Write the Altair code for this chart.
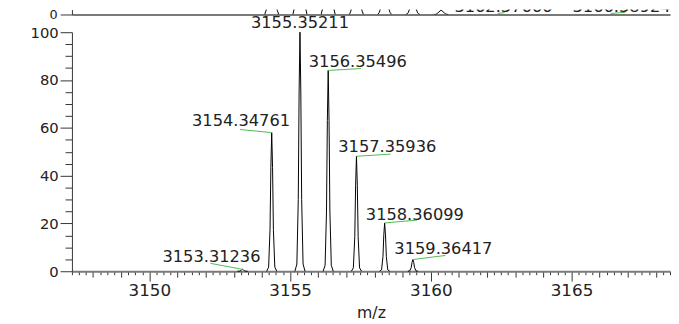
import altair as alt
import pandas as pd

FONT = "DejaVu Sans"
TXT = "#222222"
GREEN = "#4cbb4c"

# ---------------- observed spectrum (lower panel) ----------------
obs_labels = ["3153.31236", "3154.34761", "3155.35211", "3156.35496",
              "3157.35936", "3158.36099", "3159.36417"]
obs_mz = [3153.312, 3154.348, 3155.352, 3156.355, 3157.359, 3158.361, 3159.364]
obs_int = [0.8, 58.0, 100.0, 84.0, 48.1, 20.2, 4.9]

obs_profile_mz = [
    [3153.132, 3153.202, 3153.252, 3153.282, 3153.312, 3153.342, 3153.372, 3153.422, 3153.492],
    [3154.168, 3154.238, 3154.288, 3154.318, 3154.348, 3154.378, 3154.408, 3154.458, 3154.528],
    [3155.172, 3155.242, 3155.292, 3155.322, 3155.352, 3155.382, 3155.412, 3155.462, 3155.532],
    [3156.175, 3156.245, 3156.295, 3156.325, 3156.355, 3156.385, 3156.415, 3156.465, 3156.535],
    [3157.179, 3157.249, 3157.299, 3157.329, 3157.359, 3157.389, 3157.419, 3157.469, 3157.539],
    [3158.181, 3158.251, 3158.301, 3158.331, 3158.361, 3158.391, 3158.421, 3158.471, 3158.541],
    [3159.184, 3159.254, 3159.304, 3159.334, 3159.364, 3159.394, 3159.424, 3159.474, 3159.544],
]
obs_profile_int = [
    [0, 0.02, 0.24, 0.6, 0.8, 0.6, 0.24, 0.02, 0],
    [0, 1.7, 17.4, 43.5, 58.0, 43.5, 17.4, 1.7, 0],
    [0, 3.0, 30.0, 75.0, 100.0, 75.0, 30.0, 3.0, 0],
    [0, 2.5, 25.2, 63.0, 84.0, 63.0, 25.2, 2.5, 0],
    [0, 1.4, 14.4, 36.0, 48.1, 36.0, 14.4, 1.4, 0],
    [0, 0.6, 6.1, 15.2, 20.2, 15.2, 6.1, 0.6, 0],
    [0, 0.15, 1.5, 3.7, 4.9, 3.7, 1.5, 0.15, 0],
]

# label anchors and leader-line ends
obs_lab_x = [3153.95, 3155.00, 3155.352, 3155.664, 3156.713, 3157.692, 3158.706]
obs_lab_y = [3.7, 60.6, 101.6, 85.3, 49.7, 21.3, 7.1]
obs_lab_align = ["right", "right", "center", "left", "left", "left", "left"]
obs_lead_x = [3152.17, 3153.22, 3155.352, 3157.52, 3158.57, 3159.51, 3160.52]
obs_lead_y = [3.3, 59.3, 100.0, 84.8, 49.0, 21.4, 6.6]

# ---------------- theoretical pattern (upper panel, mostly cut off) ----------------
theo_profile_mz = [
    [3154.098, 3154.148, 3154.178, 3154.228, 3154.348, 3154.468, 3154.518, 3154.548, 3154.598],
    [3155.102, 3155.152, 3155.182, 3155.232, 3155.352, 3155.472, 3155.522, 3155.552, 3155.602],
    [3156.105, 3156.155, 3156.185, 3156.235, 3156.355, 3156.475, 3156.525, 3156.555, 3156.605],
    [3157.109, 3157.159, 3157.189, 3157.239, 3157.359, 3157.479, 3157.529, 3157.559, 3157.609],
    [3158.111, 3158.161, 3158.191, 3158.241, 3158.361, 3158.481, 3158.531, 3158.561, 3158.611],
    [3159.114, 3159.164, 3159.194, 3159.244, 3159.364, 3159.484, 3159.534, 3159.564, 3159.614],
    [3160.117, 3160.167, 3160.197, 3160.247, 3160.367, 3160.487, 3160.537, 3160.567, 3160.617],
]
theo_profile_int = [
    [0, 2.7, 6.0, 19.2, 60.0, 19.2, 6.0, 2.7, 0],
    [0, 4.5, 10.0, 32.0, 100.0, 32.0, 10.0, 4.5, 0],
    [0, 4.0, 8.8, 28.2, 88.0, 28.2, 8.8, 4.0, 0],
    [0, 2.3, 5.2, 16.6, 52.0, 16.6, 5.2, 2.3, 0],
    [0, 1.1, 2.4, 7.7, 24.0, 7.7, 2.4, 1.1, 0],
    [0, 0.5, 1.1, 3.5, 11.0, 3.5, 1.1, 0.5, 0],
    [0, 0.14, 0.3, 1.0, 3.0, 1.0, 0.3, 0.14, 0],
]
theo_labels = ["3162.37666", "3166.38924"]
theo_peak_x = [3162.377, 3166.389]
theo_peak_y = [0.67, 0.67]
theo_lab_x = [3160.839, 3165.035]
theo_lab_y = [1.7, 1.7]
theo_lead_x = [3162.622, 3166.91]
theo_lead_y = [1.3, 1.5]

# ---------------- axis definitions ----------------
XDOM = [3147.25, 3168.5]
x_ticks = [3147.25 + 0.25 * i for i in range(86)]
y_ticks = list(range(0, 101, 5))
W = 608

xscale = alt.Scale(domain=XDOM, nice=False, zero=False)
yscale_obs = alt.Scale(domain=[0, 100], nice=False)
yscale_theo = alt.Scale(domain=[0, 3.3], nice=False)

x_axis_obs = alt.Axis(
    values=x_ticks, title="m/z", grid=False,
    labelExpr="datum.value % 5 === 0 ? format(datum.value, 'd') : ''",
    labelOverlap=False, labelFlush=False,
    tickSize={"condition": [{"test": "datum.value % 5 === 0", "value": 10},
                            {"test": "datum.value % 1 === 0", "value": 6}],
              "value": 3.5},
    tickColor="#333333", domainColor="#7a7a7a", domainWidth=2,
    labelFont=FONT, labelFontSize=17, labelColor=TXT, labelPadding=2,
    titleFont=FONT, titleFontSize=16, titleFontWeight="normal", titleColor=TXT,
    titlePadding=6,
)
y_axis_obs = alt.Axis(
    values=y_ticks, title=None, grid=False,
    labelExpr="datum.value % 20 === 0 ? datum.label : ''",
    labelOverlap=False, labelFlush=False,
    tickSize={"condition": {"test": "datum.value % 20 === 0", "value": 12}, "value": 7},
    tickColor="#333333", domainColor="#333333",
    labelFont=FONT, labelFontSize=15, labelColor=TXT, labelPadding=2,
)
x_axis_theo = alt.Axis(
    title=None, grid=False, labels=False, ticks=False,
    domainColor="#7a7a7a", domainWidth=2,
)
y_axis_theo = alt.Axis(
    values=[0], title=None, grid=False, tickSize=12,
    tickColor="#333333", domainColor="#333333",
    labelFont=FONT, labelFontSize=13, labelColor=TXT, labelPadding=3,
)

# ---------------- tables ----------------
obs_rows = []
for k, (mzs, ints) in enumerate(zip(obs_profile_mz, obs_profile_int)):
    for m, v in zip(mzs, ints):
        obs_rows.append({"mz": m, "int": v, "peak": k})
obs_df = pd.DataFrame(obs_rows)

theo_rows = []
for k, (mzs, ints) in enumerate(zip(theo_profile_mz, theo_profile_int)):
    for m, v in zip(mzs, ints):
        theo_rows.append({"mz": m, "int": v, "peak": k})
theo_df = pd.DataFrame(theo_rows)

obs_lab = pd.DataFrame({
    "label": obs_labels, "mz": obs_mz, "int": obs_int,
    "lx": obs_lab_x, "ly": obs_lab_y, "align": obs_lab_align,
    "ex": obs_lead_x, "ey": obs_lead_y,
})
theo_lab = pd.DataFrame({
    "label": theo_labels, "mz": theo_peak_x, "int": theo_peak_y,
    "lx": theo_lab_x, "ly": theo_lab_y, "ex": theo_lead_x, "ey": theo_lead_y,
})

def X(field, axis):
    return alt.X(field, type="quantitative", scale=xscale, axis=axis)

def Y(field, scale, axis):
    return alt.Y(field, type="quantitative", scale=scale, axis=axis)

# ---------------- lower panel ----------------
obs_line = alt.Chart(obs_df).mark_line(color="black", strokeWidth=1).encode(
    x=X("mz", x_axis_obs), y=Y("int", yscale_obs, y_axis_obs), detail="peak:N"
)
obs_lead = alt.Chart(obs_lab).mark_rule(color=GREEN, strokeWidth=1).encode(
    x=X("mz", x_axis_obs), y=Y("int", yscale_obs, y_axis_obs), x2="ex", y2="ey"
)
obs_texts = []
for al in ["left", "right", "center"]:
    obs_texts.append(
        alt.Chart(obs_lab).transform_filter(alt.datum.align == al).mark_text(
            align=al, baseline="alphabetic", font=FONT, fontSize=16.5, color=TXT
        ).encode(
            x=X("lx", x_axis_obs), y=Y("ly", yscale_obs, y_axis_obs), text="label"
        )
    )
bottom = alt.layer(obs_line, obs_lead, *obs_texts).properties(width=W, height=243)

# ---------------- upper panel ----------------
theo_line = alt.Chart(theo_df).mark_line(color="black", strokeWidth=1, clip=True).encode(
    x=X("mz", x_axis_theo), y=Y("int", yscale_theo, y_axis_theo), detail="peak:N"
)
theo_lead = alt.Chart(theo_lab).mark_rule(color=GREEN, strokeWidth=1, clip=True).encode(
    x=X("mz", x_axis_theo), y=Y("int", yscale_theo, y_axis_theo), x2="ex", y2="ey"
)
theo_text = alt.Chart(theo_lab).mark_text(
    align="left", baseline="alphabetic", font=FONT, fontSize=16.5, color=TXT, clip=True
).encode(x=X("lx", x_axis_theo), y=Y("ly", yscale_theo, y_axis_theo), text="label")
top = alt.layer(theo_line, theo_lead, theo_text).properties(width=W, height=5)

chart = alt.vconcat(top, bottom, spacing=18, bounds="flush").properties(
    padding={"left": 22, "top": -2, "right": 0, "bottom": 0}
).configure_view(stroke=None)

chart.save("out.html", embed_options={"renderer": "svg", "actions": False})
